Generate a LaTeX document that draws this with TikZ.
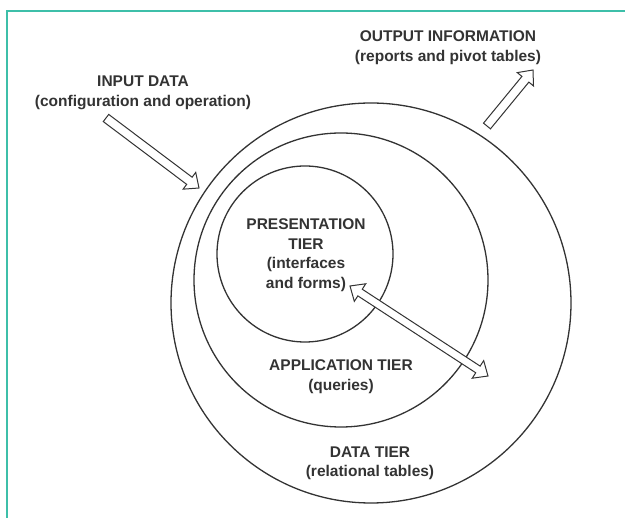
\documentclass[tikz,border=0pt]{standalone}
\usepackage{fontspec}
\setmainfont{Liberation Sans}
\usetikzlibrary{calc}
\definecolor{frameteal}{HTML}{3DBFA9}
\definecolor{ink}{HTML}{333333}
\tikzset{
  tier/.style={circle, draw=ink, line width=1.3pt, inner sep=0pt},
  label/.style={text=ink, align=center, inner sep=0pt,
    font=\fontsize{15.5}{19.5}\selectfont\bfseries},
  blockarrow/.style={draw=ink, fill=white, line width=1pt, line join=miter},
}
\newcommand{\singleblock}[2]{%
  \coordinate (hb) at ($(#2)!12pt!(#1)$);
  \draw[blockarrow] ($(#1)!4.5pt!90:(#2)$) -- ($(hb)!4.5pt!90:(#2)$) -- ($(hb)!10.5pt!90:(#2)$)
    -- (#2) -- ($(hb)!10.5pt!-90:(#2)$) -- ($(hb)!4.5pt!-90:(#2)$) -- ($(#1)!4.5pt!-90:(#2)$) -- cycle;}
\newcommand{\doubleblock}[2]{%
  \coordinate (ha) at ($(#1)!12pt!(#2)$);
  \coordinate (hb) at ($(#2)!12pt!(#1)$);
  \draw[blockarrow] (#1) -- ($(ha)!10.5pt!90:(#2)$) -- ($(ha)!4pt!90:(#2)$) -- ($(hb)!4pt!90:(#2)$)
    -- ($(hb)!10.5pt!90:(#2)$) -- (#2) -- ($(hb)!10.5pt!-90:(#2)$) -- ($(hb)!4pt!-90:(#2)$)
    -- ($(ha)!4pt!-90:(#2)$) -- ($(ha)!10.5pt!-90:(#2)$) -- cycle;}
\begin{document}
\begin{tikzpicture}[x=1pt, y=-1pt]
\useasboundingbox (0,0) rectangle (625,518);
\fill[white] (0,0) rectangle (625,518);
% frame
\coordinate (fa) at (7,518);
\coordinate (fb) at (7,11);
\coordinate (fc) at (625,11);
\draw[frameteal, line width=2pt] (fa) -- (fb) -- (fc);
% tiers
\node[tier, minimum size=400pt] (data) at (371,303) {};
\node[tier, minimum size=294pt] (app) at (341,280) {};
\node[tier, minimum size=176pt] (pres) at (305,254) {};
% labels
\node[label] (ltin) at (143,93) {INPUT DATA\\(configuration and operation)};
\node[label] (ltout) at (448,47.5) {OUTPUT INFORMATION\\(reports and pivot tables)};
\node[label] (ltpres) at (306,255) {PRESENTATION\\TIER\\(interfaces\\and forms)};
\node[label] (ltapp) at (341,376.5) {APPLICATION TIER\\(queries)};
\node[label] (ltdata) at (370,463.5) {DATA TIER\\(relational tables)};
% arrows
\coordinate (inA) at (106,118);
\coordinate (inB) at (199,188);
\singleblock{inA}{inB}
\coordinate (outA) at (487,126);
\coordinate (outB) at (533,70);
\singleblock{outA}{outB}
\coordinate (dA) at (350,286);
\coordinate (dB) at (488,376);
\doubleblock{dA}{dB}
\end{tikzpicture}
\end{document}
